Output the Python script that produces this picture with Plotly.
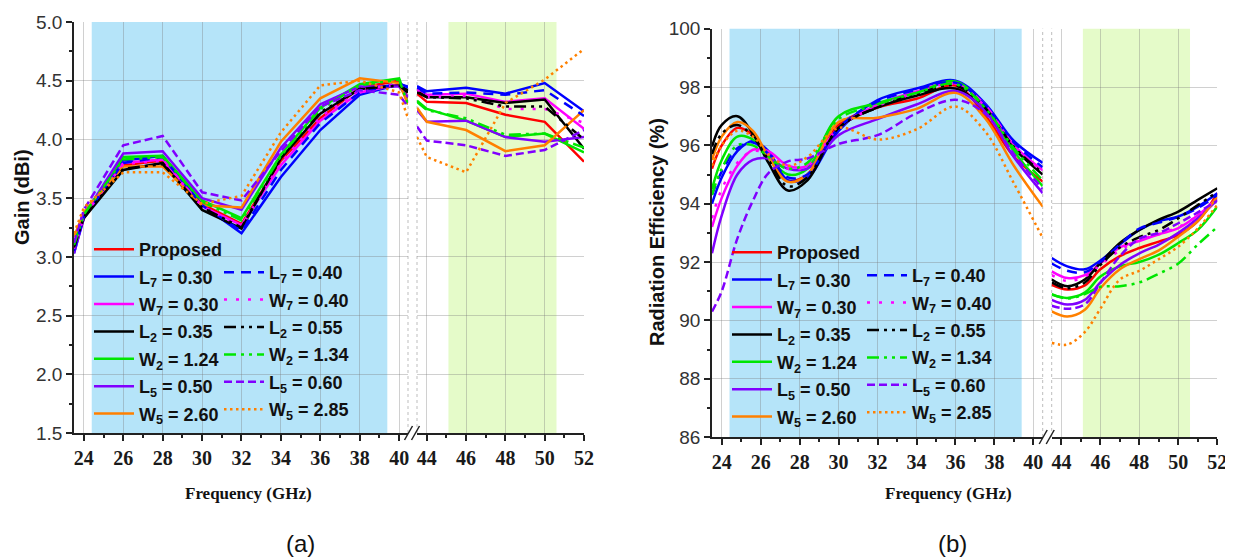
import plotly.graph_objects as go

# ---------------- data ----------------
series_names = ["Proposed",
                "L<sub>7</sub> = 0.30", "W<sub>7</sub> = 0.30", "L<sub>2</sub> = 0.35",
                "W<sub>2</sub> = 1.24", "L<sub>5</sub> = 0.50", "W<sub>5</sub> = 2.60",
                "L<sub>7</sub> = 0.40", "W<sub>7</sub> = 0.40", "L<sub>2</sub> = 0.55",
                "W<sub>2</sub> = 1.34", "L<sub>5</sub> = 0.60", "W<sub>5</sub> = 2.85"]

# (a) Gain (dBi) - low band and high band frequencies (GHz)
gain_freq_lo = [23.5, 24, 26, 28, 30, 32, 34, 36, 38, 40, 40.45]
gain_freq_hi = [43.5, 44, 46, 48, 50, 52]

gain_lo = [
    [3.10, 3.35, 3.78, 3.82, 3.45, 3.28, 3.82, 4.18, 4.44, 4.50, 4.35],  # Proposed
    [3.03, 3.33, 3.82, 3.86, 3.44, 3.20, 3.68, 4.08, 4.38, 4.47, 4.45],  # L7 0.30
    [3.05, 3.33, 3.80, 3.83, 3.43, 3.27, 3.78, 4.16, 4.40, 4.47, 4.40],  # W7 0.30
    [3.08, 3.33, 3.74, 3.80, 3.40, 3.24, 3.84, 4.22, 4.43, 4.46, 4.42],  # L2 0.35
    [3.10, 3.36, 3.85, 3.86, 3.48, 3.33, 3.87, 4.27, 4.47, 4.52, 4.30],  # W2 1.24
    [3.03, 3.35, 3.88, 3.90, 3.50, 3.40, 3.93, 4.30, 4.45, 4.45, 4.36],  # L5 0.50
    [3.17, 3.38, 3.77, 3.77, 3.44, 3.42, 3.98, 4.35, 4.52, 4.48, 4.30],  # W5 2.60
    [3.05, 3.34, 3.80, 3.85, 3.44, 3.22, 3.74, 4.14, 4.40, 4.48, 4.44],  # L7 0.40
    [3.07, 3.35, 3.79, 3.82, 3.43, 3.26, 3.80, 4.19, 4.42, 4.47, 4.40],  # W7 0.40
    [3.08, 3.34, 3.75, 3.79, 3.42, 3.25, 3.85, 4.23, 4.43, 4.46, 4.40],  # L2 0.55
    [3.10, 3.36, 3.83, 3.85, 3.47, 3.31, 3.86, 4.26, 4.46, 4.51, 4.30],  # W2 1.34
    [3.12, 3.40, 3.95, 4.03, 3.55, 3.48, 3.90, 4.28, 4.42, 4.38, 4.28],  # L5 0.60
    [3.20, 3.42, 3.72, 3.72, 3.45, 3.52, 4.06, 4.46, 4.50, 4.40, 4.18],  # W5 2.85
]
gain_hi = [
    [4.39, 4.32, 4.31, 4.21, 4.15, 3.81],
    [4.455, 4.41, 4.44, 4.39, 4.48, 4.24],
    [4.43, 4.38, 4.39, 4.32, 4.35, 4.09],
    [4.41, 4.36, 4.36, 4.31, 4.34, 3.92],
    [4.33, 4.26, 4.16, 4.02, 4.05, 3.89],
    [4.25, 4.15, 4.16, 4.02, 3.98, 4.02],
    [4.27, 4.15, 4.08, 3.90, 3.95, 4.25],
    [4.44, 4.39, 4.40, 4.38, 4.42, 4.20],
    [4.42, 4.36, 4.37, 4.26, 4.26, 4.14],
    [4.40, 4.36, 4.35, 4.28, 4.28, 4.00],
    [4.32, 4.25, 4.18, 4.04, 4.05, 3.93],
    [4.11, 3.99, 3.95, 3.86, 3.91, 4.08],
    [4.02, 3.85, 3.72, 4.31, 4.51, 4.77],
]

# (b) Radiation efficiency (%)
eff_freq_lo = [23.5, 24, 24.8, 25.6, 26.4, 27.4, 28.4, 30, 32, 34, 36, 37.5, 39, 40.48]
eff_freq_hi = [43.5, 44.3, 45.2, 46, 47, 48, 49, 50, 51, 52]

eff_lo = [
    [95.2, 96.0, 96.6, 96.35, 95.6, 94.8, 95.0, 96.7, 97.3, 97.6, 98.05, 97.05, 95.62, 94.76],
    [94.0, 94.9, 95.8, 96.15, 95.8, 94.8, 94.9, 96.5, 97.55, 97.95, 98.22, 97.45, 96.15, 95.4],
    [93.2, 94.2, 95.3, 95.85, 95.8, 95.3, 95.3, 96.6, 97.4, 97.85, 98.13, 97.4, 96.0, 95.15],
    [95.96, 96.7, 97.0, 96.4, 95.4, 94.45, 94.8, 96.6, 97.3, 97.7, 97.95, 97.2, 95.9, 95.0],
    [94.5, 95.5, 96.3, 96.2, 95.6, 95.0, 95.2, 97.0, 97.45, 97.8, 98.19, 97.3, 95.8, 94.6],
    [92.3, 93.6, 95.0, 95.5, 95.55, 95.2, 95.2, 96.35, 96.9, 97.4, 97.86, 97.2, 95.6, 94.36],
    [95.5, 96.3, 96.8, 96.5, 95.6, 94.75, 95.0, 96.8, 96.95, 97.25, 97.8, 96.95, 95.3, 93.9],
    [94.3, 95.1, 95.9, 96.1, 95.7, 94.9, 95.0, 96.6, 97.5, 97.9, 98.15, 97.4, 96.1, 95.25],
    [93.5, 94.5, 95.4, 95.8, 95.7, 95.2, 95.3, 96.6, 97.35, 97.8, 98.1, 97.35, 96.0, 95.1],
    [95.7, 96.4, 96.7, 96.3, 95.5, 94.6, 94.9, 96.6, 97.3, 97.75, 98.05, 97.3, 95.95, 95.05],
    [94.3, 95.2, 96.0, 96.0, 95.6, 95.2, 95.4, 96.9, 97.4, 97.8, 98.1, 97.3, 95.9, 94.8],
    [90.3, 91.0, 92.8, 94.1, 95.05, 95.45, 95.55, 96.05, 96.35, 97.1, 97.56, 97.1, 95.7, 94.5],
    [95.3, 96.0, 96.5, 96.3, 95.7, 95.3, 95.6, 96.6, 96.2, 96.55, 97.33, 96.5, 94.7, 92.83],
]
eff_hi = [
    [91.22, 91.06, 91.2, 91.75, 92.2, 92.48, 92.7, 92.93, 93.4, 94.36],
    [92.14, 91.85, 91.75, 92.05, 92.6, 93.1, 93.4, 93.56, 93.9, 94.36],
    [91.68, 91.45, 91.55, 91.95, 92.5, 92.72, 92.95, 93.16, 93.6, 94.19],
    [91.4, 91.17, 91.4, 91.97, 92.65, 93.1, 93.45, 93.73, 94.13, 94.53],
    [90.88, 90.77, 90.95, 91.5, 91.85, 92.0, 92.25, 92.65, 93.1, 93.9],
    [90.7, 90.54, 90.7, 91.3, 91.9, 92.3, 92.6, 93.0, 93.5, 94.13],
    [90.31, 90.13, 90.36, 91.1, 91.75, 92.1, 92.4, 92.87, 93.4, 94.25],
    [91.95, 91.7, 91.65, 92.0, 92.6, 93.15, 93.35, 93.55, 93.85, 94.3],
    [91.55, 91.35, 91.5, 91.9, 92.4, 92.75, 92.95, 93.2, 93.6, 94.2],
    [91.3, 91.1, 91.3, 91.9, 92.5, 92.85, 93.1, 93.5, 93.95, 94.4],
    [90.9, 90.75, 90.9, 91.15, 91.17, 91.3, 91.6, 91.95, 92.6, 93.2],
    [90.5, 90.4, 90.55, 91.28, 92.2, 92.8, 93.0, 93.33, 93.7, 94.1],
    [89.23, 89.17, 89.6, 90.4, 91.4, 91.7, 92.1, 92.53, 93.15, 93.96],
]

# shaded frequency bands (GHz)
band_low = [24.4, 39.4]
band_high = [45.1, 50.6]

# ---------------- styles ----------------
colors = ["#ff0000", "#0000ff", "#ff00ff", "#000000", "#00e600", "#8000ff", "#ff8000",
          "#0000ff", "#ff00ff", "#000000", "#00e600", "#8000ff", "#ff8000"]
dashes = ["solid"] * 7 + ["10px,7px", "3px,9px", "12px,5px,3px,5px,3px,5px",
                          "12px,5px,3px,5px,3px,5px", "8px,4px", "2.5px,3.5px"]

W, H = 1233, 558
PAGE_OFF = 8  # default page body margin that offsets the figure in the window
def fx(p):
    return (p - PAGE_OFF) / W
def fy(p):
    return 1 - (p - PAGE_OFF) / H

# pixel layout of axes (window pixels)
A1 = (74, 408); A2 = (417, 584); AY_A = (22, 433)
B1 = (712, 1042.7); B2 = (1051.7, 1217.3); AY_B = (28.7, 437)

fig = go.Figure()

def add_panel(xlo, xhi, ylo_data, yhi_data, xa, xb, ya, legA, legB, spline):
    for i, name in enumerate(series_names):
        line = dict(color=colors[i], width=2.5, dash=dashes[i])
        if spline:
            line["shape"] = "spline"
            line["smoothing"] = 1.0
        leg = legA if i < 7 else legB
        fig.add_trace(go.Scatter(x=xlo, y=ylo_data[i], mode="lines", name=name, line=line,
                                 xaxis=xa, yaxis=ya, legend=leg, legendgroup=leg + str(i),
                                 showlegend=True, hoverinfo="skip"))
        fig.add_trace(go.Scatter(x=xhi, y=yhi_data[i], mode="lines", name=name, line=line,
                                 xaxis=xb, yaxis=ya, showlegend=False, hoverinfo="skip"))

add_panel(gain_freq_lo, gain_freq_hi, gain_lo, gain_hi, "x", "x2", "y", "legend", "legend2", False)
add_panel(eff_freq_lo, eff_freq_hi, eff_lo, eff_hi, "x3", "x4", "y2", "legend3", "legend4", True)

SERIF = "Liberation Serif, Times New Roman, serif"
SANS = "Liberation Sans, Arial, sans-serif"
tickfont_x = dict(family=SERIF, size=20, color="#1a1a1a", weight="bold")
tickfont_y = dict(family=SANS, size=19, color="#333333")
gridc = "rgba(120,120,120,0.35)"

def xax(dom, rng, anchor):
    return dict(domain=[fx(dom[0]), fx(dom[1])], range=rng, anchor=anchor, automargin=False,
                tick0=24, dtick=2, ticks="outside", ticklen=6, tickwidth=1.5, tickcolor="#222",
                showline=True, linecolor="#222", linewidth=1.5, showgrid=True, gridcolor=gridc,
                gridwidth=1, zeroline=False, tickfont=tickfont_x,
                minor=dict(dtick=1, ticks="outside", ticklen=3, tickcolor="#222", showgrid=False))

def yax(dom, rng, anchor, dt, mdt, fmt):
    return dict(domain=[fy(dom[1]), fy(dom[0])], range=rng, anchor=anchor, dtick=dt,
                automargin=False,
                ticks="outside", ticklen=6, tickwidth=1.5, tickcolor="#222", showline=True,
                linecolor="#222", linewidth=1.5, showgrid=True, gridcolor=gridc, gridwidth=1,
                zeroline=False, tickfont=tickfont_y, tickformat=fmt,
                minor=dict(dtick=mdt, ticks="outside", ticklen=3, tickcolor="#222", showgrid=False))

legfont = dict(family=SANS, size=18, color="#111", weight="bold")
def leg(xp, ytop):
    return dict(x=fx(xp), y=fy(ytop), xanchor="left", yanchor="top", bgcolor="rgba(0,0,0,0)",
                borderwidth=0, font=legfont, itemwidth=40, traceorder="grouped",
                tracegroupgap=1, itemclick=False, itemdoubleclick=False)

shapes = []
def band(xref, yref, lo, hi, col):
    shapes.append(dict(type="rect", xref=xref, yref=yref + " domain", x0=lo, x1=hi, y0=0, y1=1,
                       fillcolor=col, line=dict(width=0), layer="below"))
band("x", "y", band_low[0], band_low[1], "#b5e4f9")
band("x2", "y", band_high[0], band_high[1], "#e5fbc9")
band("x3", "y2", band_low[0], band_low[1], "#b5e4f9")
band("x4", "y2", band_high[0], band_high[1], "#e5fbc9")

def vdot(xref, yref, xv):
    shapes.append(dict(type="line", xref=xref + " domain", yref=yref + " domain", x0=xv, x1=xv,
                       y0=0, y1=1, line=dict(color="#bdbdbd", width=1, dash="dot"), layer="below"))
vdot("x", "y", 1); vdot("x2", "y", 0); vdot("x3", "y2", 1); vdot("x4", "y2", 0)

def brk(seg1, seg2, ybot):
    mid = (seg1[1] + seg2[0]) / 2
    for off in (-4, 3):
        shapes.append(dict(type="line", xref="paper", yref="paper",
                           x0=fx(mid + off - 4), y0=fy(ybot + 7), x1=fx(mid + off + 4), y1=fy(ybot - 7),
                           line=dict(color="#222", width=1.5)))
brk(A1, A2, AY_A[1]); brk(B1, B2, AY_B[1])

def ann(text, xp, yp, font, angle=0):
    return dict(text=text, x=fx(xp), y=fy(yp), xref="paper", yref="paper", showarrow=False,
                xanchor="center", yanchor="middle", textangle=angle, font=font)

f_ytitle = dict(family=SANS, size=20, weight="bold", color="#111")
f_xtitle = dict(family=SERIF, size=17, weight="bold", color="#111")
f_lab = dict(family=SANS, size=24, color="#111")
annotations = [
    ann("Gain (dBi)", 22, 197, f_ytitle, -90),
    ann("Radiation Efficiency (%)", 657, 232, f_ytitle, -90),
    ann("Frequency (GHz)", 248, 493, f_xtitle),
    ann("Frequency (GHz)", 948, 493, f_xtitle),
    ann("(a)", 300, 543, f_lab),
    ann("(b)", 952, 543, f_lab),
]

fig.update_layout(
    width=W, height=H, margin=dict(l=0, r=0, t=0, b=0, pad=0, autoexpand=False),
    paper_bgcolor="white", plot_bgcolor="white",
    xaxis=xax(A1, [23.5, 40.45], "y"),
    xaxis2=xax(A2, [43.5, 52], "y"),
    xaxis3=xax(B1, [23.5, 40.48], "y2"),
    xaxis4=xax(B2, [43.5, 52], "y2"),
    yaxis=yax(AY_A, [1.5, 5.0], "x", 0.5, 0.25, ".1f"),
    yaxis2=yax(AY_B, [86, 100], "x3", 2, 1, "d"),
    legend=leg(89, 231), legend2=leg(219, 254),
    legend3=leg(727, 234), legend4=leg(862, 257),
    shapes=shapes, annotations=annotations, showlegend=True,
)

fig.write_html("out.html")
